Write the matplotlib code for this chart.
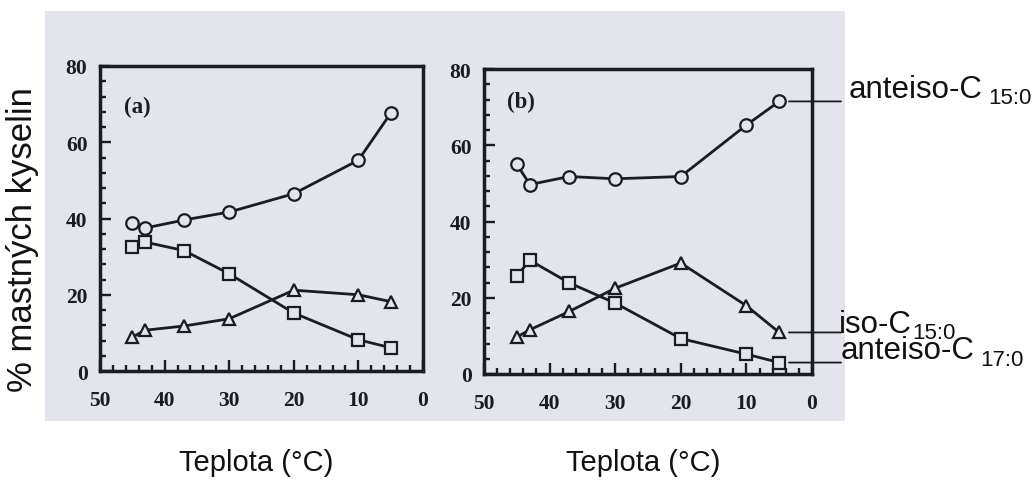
import matplotlib
matplotlib.use("Agg")
import matplotlib.pyplot as plt
from matplotlib.patches import Rectangle
from matplotlib.ticker import MultipleLocator

# ---- data ----
temps = [45, 43, 37, 30, 20, 10, 5]
a_anteiso15 = [38.7, 37.5, 39.6, 41.7, 46.5, 55.3, 67.6]
a_iso15 = [8.9, 10.7, 11.8, 13.7, 21.2, 20.0, 18.2]
a_anteiso17 = [32.5, 33.8, 31.6, 25.5, 15.2, 8.2, 6.1]
b_anteiso15 = [55.0, 49.7, 51.8, 51.2, 51.8, 65.3, 71.5]
b_iso15 = [9.7, 11.6, 16.4, 22.5, 29.1, 17.9, 10.9]
b_anteiso17 = [25.8, 29.8, 23.9, 18.6, 9.3, 5.2, 3.0]
panel_labels = ["(a)", "(b)"]
series_names = ["anteiso-C", "iso-C", "anteiso-C"]
series_subs = ["15:0", "15:0", "17:0"]
xlabel = "Teplota (°C)"
ylabel = "% mastných kyselin"

W, H = 1033, 481
fig = plt.figure(figsize=(W / 100, H / 100), dpi=100)
fig.patch.set_facecolor('white')

bg = '#e3e4ec'
ink = '#1b1b22'
# scanned panel background
fig.patches.append(Rectangle((45 / W, 1 - 422 / H), 800 / W, 410 / H,
                             transform=fig.transFigure, facecolor=bg,
                             edgecolor='none', zorder=-5))

axa = fig.add_axes([100 / W, 1 - 372 / H, 323 / W, 305 / H])
axb = fig.add_axes([484 / W, 1 - 375 / H, 328 / W, 305 / H])

for ax, lab, data, lpos in [
        (axa, panel_labels[0], (a_anteiso15, a_iso15, a_anteiso17), (0.075, 0.868)),
        (axb, panel_labels[1], (b_anteiso15, b_iso15, b_anteiso17), (0.07, 0.893))]:
    ax.set_facecolor(bg)
    ax.set_xlim(50, 0)
    ax.set_ylim(0, 80)
    for y, m, ms in zip(data, ['o', '^', 's'], [9.0, 9.0, 8.6]):
        ax.plot(temps, y, color=ink, lw=2.0, marker=m, markersize=ms,
                markerfacecolor=bg, markeredgecolor=ink, markeredgewidth=1.6,
                zorder=3, clip_on=False)
    ax.xaxis.set_major_locator(MultipleLocator(10))
    ax.xaxis.set_minor_locator(MultipleLocator(2))
    ax.yaxis.set_major_locator(MultipleLocator(20))
    ax.yaxis.set_minor_locator(MultipleLocator(4))
    ax.tick_params(which='both', direction='in', color=ink, width=1.7,
                   top=False, right=False)
    ax.tick_params(which='major', length=8)
    ax.tick_params(which='minor', length=4.5)
    ax.tick_params(axis='x', which='major', pad=13.5)
    ax.tick_params(axis='y', which='major', pad=9)
    for t in ax.get_xticklabels() + ax.get_yticklabels():
        t.set_family('Liberation Serif')
        t.set_weight('bold')
        t.set_size(15.5)
        t.set_color(ink)
    for s in ax.spines.values():
        s.set_linewidth(2.5)
        s.set_color(ink)
    ax.text(lpos[0], lpos[1], lab, transform=ax.transAxes, ha='left',
            va='center', color=ink, family='Liberation Serif',
            weight='bold', size=16.5)

# leader lines and labels for panel b
label_offsets = [(50, 3.5), (43, 0.5), (44.5, 3.0)]
sub_gaps = [4, 0, 4]
for y, name, sub, (dx, dy), gap in zip((b_anteiso15, b_iso15, b_anteiso17),
                                       series_names, series_subs,
                                       label_offsets, sub_gaps):
    axb.annotate('', xy=(temps[-1], y[-1]), xytext=(44.5, 0),
                 textcoords='offset points',
                 arrowprops=dict(arrowstyle='-', color=ink, lw=1.3,
                                 shrinkA=0, shrinkB=7))
    main = axb.annotate(name, xy=(temps[-1], y[-1]), xytext=(dx, dy),
                        textcoords='offset points', ha='left', va='baseline',
                        family='Liberation Sans', fontsize=22.5, color='#111111')
    axb.annotate(sub, xy=(1, 0), xycoords=main, xytext=(gap, 0.5),
                 textcoords='offset points', ha='left', va='baseline',
                 family='Liberation Sans', fontsize=16, color='#111111')

fig.text(256 / W, 1 - 463 / H, xlabel, ha='center', va='center',
         family='Liberation Sans', fontsize=21, color='#111111')
fig.text(643 / W, 1 - 463 / H, xlabel, ha='center', va='center',
         family='Liberation Sans', fontsize=21, color='#111111')
fig.text(23 / W, 1 - 240 / H, ylabel, ha='center', va='center', rotation=90,
         family='Liberation Sans', fontsize=25, color='#111111')

fig.savefig('out.png', dpi=100, facecolor='white')
